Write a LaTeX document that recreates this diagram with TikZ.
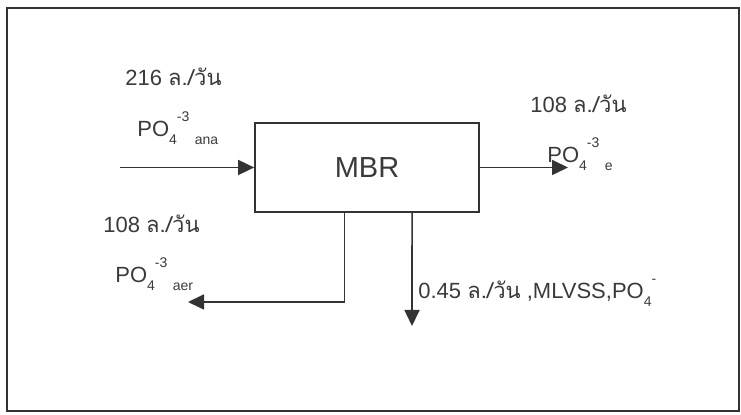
\documentclass[tikz,border=0pt]{standalone}
\usepackage{fontspec}
\setmainfont{Liberation Sans}
\newfontfamily\thaifont[Script=Thai]{Loma}
\usepackage{tikz}
\usetikzlibrary{arrows.meta, positioning, calc}
\definecolor{mbrink}{HTML}{3a3a3a}
\definecolor{mbrline}{HTML}{333333}

\newcommand{\lpd}{{\thaifont ล./วัน}}
\newcommand{\subsz}{\fontsize{7}{8}\selectfont}
\newcommand{\phos}[3]{PO\raisebox{-0.7ex}{\subsz #1}\raisebox{1.3ex}{\subsz #2}\hspace{0.25em}\raisebox{-0.7ex}{\subsz #3}}

\begin{document}
\begin{tikzpicture}[
    x=0.5pt, y=-0.5pt,
    reactor/.style={rectangle, draw=mbrline, line width=0.85pt, minimum width=112pt, minimum height=44.5pt, inner sep=0pt, font=\fontsize{14.5}{16}\selectfont, text=mbrink},
    tag/.style={anchor=west, inner sep=0pt, text=mbrink, font=\fontsize{11}{13}\selectfont},
    flow/.style={-{Triangle[length=8pt, width=7.5pt]}, line width=0.85pt, mbrline}
]
\useasboundingbox (0,0) rectangle (741,415);
\draw[mbrline, line width=1.3pt] (7,8) rectangle (739,411);

\node[reactor] (mbr) at (367,167.5) {MBR};

% stream ends
\coordinate (feed) at (120,167.5);
\coordinate (permeate) at (568,167.5);
\coordinate (recycle) at (188,302);
\coordinate (sludge) at (412,326);

\draw[flow] (feed) -- (mbr.west);
\draw[flow] (mbr.east) -- (permeate);
\draw[flow] ($(mbr.south west)!0.40!(mbr.south east)$) |- (recycle);
\draw[flow] ($(mbr.south west)!0.70!(mbr.south east)$) -- (sludge);

% labels
\node[tag] (feedq) at (125,77) {216 \lpd};
\node[tag] (feedp) at (137,128) {\phos{4}{-3}{ana}};
\node[tag] (outq) at (530,104) {108 \lpd};
\node[tag] (outp) at (547,154) {\phos{4}{-3}{e}};
\node[tag] (recq) at (103,224) {108 \lpd};
\node[tag] (recp) at (115,274) {\phos{4}{-3}{aer}};
\node[tag] (wasteq) at (418,293) {0.45 \lpd\ ,MLVSS,PO\raisebox{-0.7ex}{\subsz 4}\raisebox{1.3ex}{\subsz -}};
\end{tikzpicture}
\end{document}
